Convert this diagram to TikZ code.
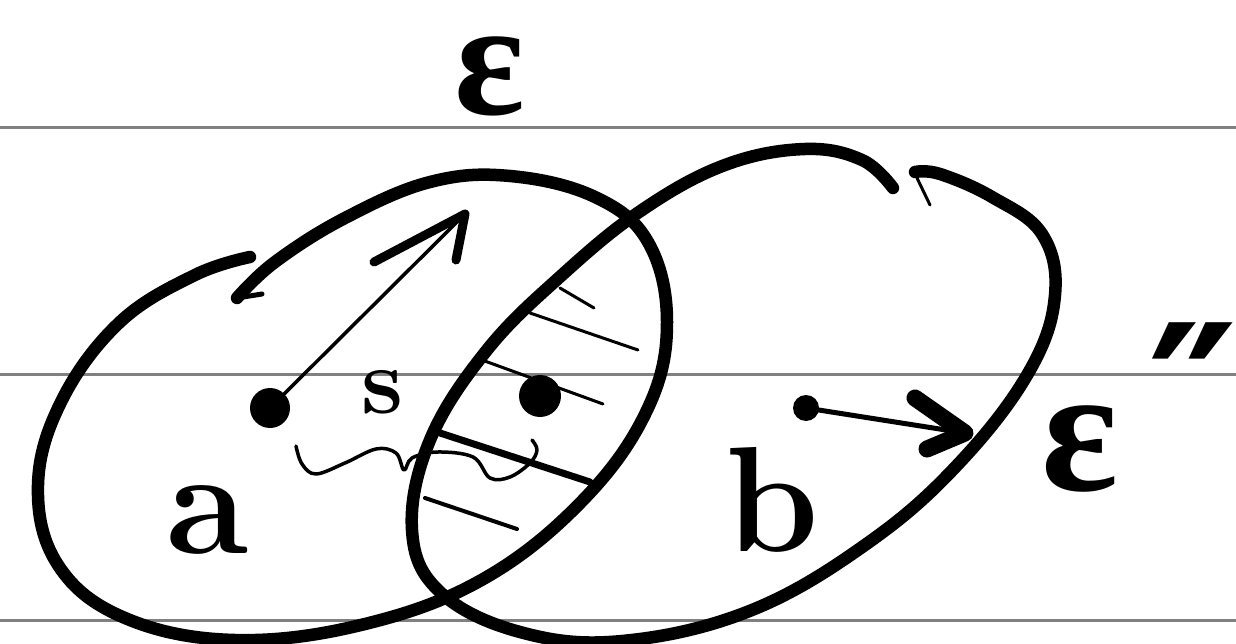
\documentclass[tikz,border=0pt]{standalone}
\usepackage{fontspec}
\newfontfamily\greekfont{Liberation Serif}
\newfontfamily\symfont{DejaVu Sans}
\tikzset{
  ruling/.style={draw={rgb,255:red,128;green,128;blue,128}, line width=3pt},
  setline/.style={line width=12.5pt, line cap=round, line join=round},
  thinline/.style={line width=3.5pt, line cap=round, line join=round},
  hatch/.style={line width=3pt, line cap=round},
  headline/.style={line width=10pt, line cap=round, line join=round},
  dotnode/.style={circle, fill=black, inner sep=0pt},
  hand/.style={inner sep=0pt, font=\fontsize{150}{150}\selectfont\bfseries},
}
\begin{document}
\begin{tikzpicture}[x=1pt, y=-1pt]
\useasboundingbox[fill=white] (0,0) rectangle (1236,644);
% ruling lines
\draw[ruling] (0,128) -- (1236,128);
\draw[ruling] (0,374) -- (1236,374);
\draw[ruling] (0,620) -- (1236,620);
% left set
\draw[setline] plot[smooth, tension=0.65] coordinates {(250,257) (195,275) (120,322) (62,400) (38,485) (58,565) (125,618) (235,640) (365,624) (485,578) (585,498) (648,408) (667,322) (648,242) (595,197) (510,176) (430,182) (345,218) (275,262) (237,298)};
\draw[line width=5pt, line cap=round] (237,298) -- (262,294);
% right set
\draw[setline] plot[smooth, tension=0.65] coordinates {(893,188) (862,160) (805,149) (725,165) (642,210) (562,275) (487,350) (430,440) (412,530) (440,592) (520,632) (622,641) (752,610) (872,540) (962,460) (1030,370) (1055,295) (1042,234) (992,197) (940,174) (915,172)};
\draw[line width=3pt, line cap=round] (917,178) -- (930,205);
% hatching
\draw[hatch] (560,288) -- (594,308);
\draw[hatch] (530,313) -- (638,350);
\draw[hatch] (482,360) -- (603,404);
\draw[line width=7pt, line cap=round] (440,433) -- (590,482);
\draw[hatch, line width=4pt] (425,498) -- (517,529);
% points
\node[dotnode, minimum size=40pt] (pa) at (270,408) {};
\node[dotnode, minimum size=42pt] (pm) at (540,396) {};
\node[dotnode, minimum size=26pt] (pb) at (806,408) {};
\coordinate (tipa) at (465,214);
\coordinate (tipb) at (965,433);
% arrow from a
\draw[thinline] (pa) -- (tipa);
\draw[headline, line width=9pt] (374,262) -- (tipa) -- (456,260);
% arrow from b
\draw[thinline, line width=5pt] (pb) -- (tipb);
\draw[headline, line width=17pt] (915,398) -- (tipb) -- (927,449);
% squiggle
\draw[thinline] plot[smooth, tension=0.6] coordinates {(296,446) (302,464) (316,474) (345,463) (376,449) (396,453) (404,470) (412,458) (437,452) (473,457) (490,478) (510,477) (530,463) (537,450) (532,440)};
% labels
\node[hand, font=\fontsize{95}{95}\selectfont\bfseries] (s) at (383,392) {s};
\node[hand] (la) at (208,520) {a};
\node[hand] (lb) at (772,500) {b};
\node[hand, font=\fontsize{165}{165}\selectfont\bfseries\greekfont] (eps1) at (490,76) {ε};
\node[hand, font=\fontsize{180}{180}\selectfont\bfseries\greekfont] (eps2) at (1080,449) {ε};
\node[hand, anchor=north, font=\fontsize{200}{200}\selectfont\bfseries\symfont] (pp) at (1193,322) {″};
\end{tikzpicture}
\end{document}
